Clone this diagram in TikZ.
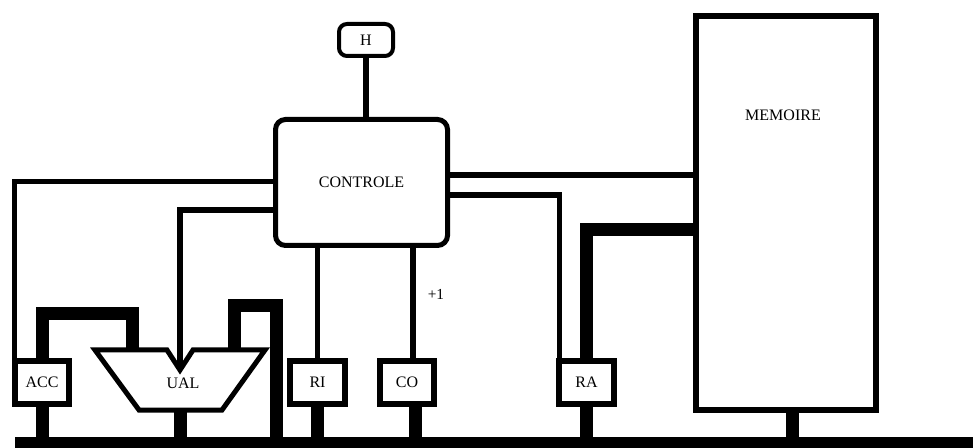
\documentclass[tikz,border=0pt]{standalone}
\usepackage{fontspec}
\setmainfont{Liberation Serif}
\usetikzlibrary{positioning}

\tikzset{
  reg/.style={draw, line width=4.5pt, fill=white, inner sep=0pt, outer sep=0pt,
    minimum width=41pt, minimum height=32.25pt},
  ctrlbox/.style={draw, line width=3.75pt, fill=white, rounded corners=7.5pt,
    inner sep=0pt, outer sep=0pt, minimum width=129pt, minimum height=94.5pt},
  hbox/.style={draw, line width=3pt, fill=white, rounded corners=6pt,
    inner sep=0pt, outer sep=0pt, minimum width=40.5pt, minimum height=24pt},
  membox/.style={draw, line width=4.5pt, fill=white, inner sep=0pt, outer sep=0pt,
    minimum width=135pt, minimum height=295pt},
  fil/.style={line width=4pt},
  gros/.style={line width=9.75pt},
  busline/.style={line width=9pt},
}

\begin{document}
\begin{tikzpicture}[x=0.75pt, y=-0.75pt, font=\fontsize{12}{14}\selectfont]
    \useasboundingbox (0,0) rectangle (973,448);
    % blocs
    \node[ctrlbox] (ctrl) at (361.5,182.5) {CONTROLE};
    \node[hbox] (h) at (366,40) {H};
    \node[membox] (mem) at (786,213) {};
    \node (memlbl) at (783,115) {MEMOIRE};
    \node[reg] (acc) at (42,382.5) {ACC};
    \node[reg] (ri) at (317.5,382.5) {RI};
    \node[reg] (co) at (407,382.5) {CO};
    \node[reg] (ra) at (586.5,382.5) {RA};
    % UAL
    \coordinate (ualin) at (180,370);
    \coordinate (uala) at (132,350);
    \coordinate (ualb) at (234,350);
    \coordinate (ualbas) at (180,410);
    \draw[line width=3.75pt, fill=white] (95,350) -- (167,350) -- (ualin) -- (193,350)
        -- (265,350) -- (222,410) -- (139,410) -- cycle;
    \node (ual) at (183,383) {UAL};
    % bus
    \coordinate (busg) at (15,443);
    \coordinate (busd) at (973,443);
    \coordinate (sortie) at (276,306);
    \draw[busline] (busg) -- (busd);
    % commandes
    \draw[fil] (h.south) -- (h.south |- ctrl.north);
    \draw[fil] (ctrl.west |- 0,181.5) -| (acc.north west);
    \draw[fil] (ctrl.west |- 0,210) -| (ualin);
    \draw[fil] (ctrl.east |- 0,175) -- (mem.west |- 0,175);
    \draw[fil] (ctrl.east |- 0,195) -| (ra.north west);
    \draw[fil] (ri.north |- ctrl.south) -- (ri.north);
    \draw[fil] ([xshift=4.5pt]co.north |- ctrl.south) -- ([xshift=4.5pt]co.north);
    \node[font=\fontsize{11.5}{13}\selectfont] (plus) at (436,294) {+1};
    % donnees
    \draw[gros] (mem.west |- 0,230) -| (ra.north);
    \draw[gros] (acc.north) -- (acc.north |- 0,314) -| (uala);
    \draw[gros] (ualb) |- (sortie) -- (sortie |- busg);
    \draw[gros] (acc.south) -- (acc.south |- busg);
    \draw[gros] (ualbas) -- (ualbas |- busg);
    \draw[gros] (ri.south) -- (ri.south |- busg);
    \draw[gros] ([xshift=6pt]co.south) -- ([xshift=6pt]co.south |- busg);
    \draw[gros] (ra.south) -- (ra.south |- busg);
    \draw[gros] ([xshift=5pt]mem.south) -- ([xshift=5pt]mem.south |- busg);
\end{tikzpicture}
\end{document}
